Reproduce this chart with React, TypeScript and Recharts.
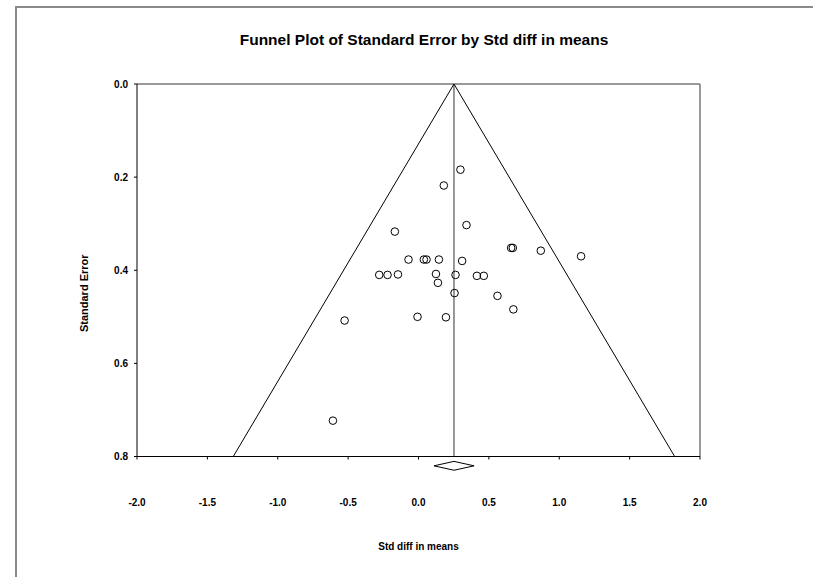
import {
  ScatterChart,
  Scatter,
  XAxis,
  YAxis,
  ReferenceLine,
} from 'recharts';

// study estimates
const stdDiff: number[] = [
  0.298, 0.18, 0.341, -0.168, 0.658, 0.67, 0.869, 1.155, -0.071, 0.038,
  0.057, 0.145, 0.31, -0.279, -0.22, -0.146, 0.124, 0.263, 0.415, 0.464,
  0.138, 0.256, 0.561, 0.674, -0.525, -0.007, 0.195, -0.608,
];
const stdError: number[] = [
  0.184, 0.218, 0.303, 0.317, 0.352, 0.352, 0.358, 0.37, 0.377, 0.377,
  0.377, 0.377, 0.38, 0.41, 0.41, 0.409, 0.408, 0.41, 0.412, 0.412,
  0.427, 0.449, 0.455, 0.484, 0.508, 0.5, 0.501, 0.723,
];

// summary effect (diamond) and funnel settings
const summary = { mean: 0.252, low: 0.11, high: 0.395 };
const Z = 1.96;

const xTicks = [-2, -1.5, -1, -0.5, 0, 0.5, 1, 1.5, 2];
const yTicks = [0, 0.2, 0.4, 0.6, 0.8];

const points = stdDiff.map((x, i) => ({ x, y: stdError[i] }));

const FONT = 'Arial, "Liberation Sans", sans-serif';
const tickStyle = { fontSize: 10, fontWeight: 700, fill: '#000', fontFamily: FONT };

// diamond sits just below the x axis
const DIAMOND_Y = 0.82;
const DIAMOND_H = 0.0095;

const OpenCircle = (props: any) => {
  const { cx, cy } = props;
  if (cx == null || cy == null) return null;
  return <circle cx={cx} cy={cy} r={3.8} fill="none" stroke="#000" strokeWidth={1} />;
};

export default function App() {
  const maxSe = yTicks[yTicks.length - 1];
  const left = { x: summary.mean - Z * maxSe, y: maxSe };
  const right = { x: summary.mean + Z * maxSe, y: maxSe };
  const apex = { x: summary.mean, y: 0 };

  const dL = { x: summary.low, y: DIAMOND_Y };
  const dT = { x: summary.mean, y: DIAMOND_Y - DIAMOND_H };
  const dR = { x: summary.high, y: DIAMOND_Y };
  const dB = { x: summary.mean, y: DIAMOND_Y + DIAMOND_H };

  return (
    <div style={{ position: 'absolute', left: 0, top: 0, width: 813, height: 577, background: '#fff' }}>
      {/* outer frame */}
      <div
        style={{
          position: 'absolute',
          left: 15,
          top: 6,
          width: 820,
          height: 600,
          borderLeft: '2px solid #8a8a8a',
          borderTop: '2px solid #8a8a8a',
        }}
      />
      <div
        style={{
          position: 'absolute',
          left: 124,
          top: 31.6,
          width: 600,
          textAlign: 'center',
          fontFamily: FONT,
          fontWeight: 700,
          fontSize: 15.5,
          lineHeight: '16px',
          color: '#000',
        }}
      >
        Funnel Plot of Standard Error by Std diff in means
      </div>
      <ScatterChart
        width={813}
        height={577}
        margin={{ top: 84, right: 113, left: 77, bottom: 20.5 }}
        style={{ position: 'absolute', left: 0, top: 0 }}
      >
        <XAxis
          type="number"
          dataKey="x"
          domain={[-2, 2]}
          ticks={xTicks}
          tickFormatter={(v: number) => v.toFixed(1)}
          tick={tickStyle}
          tickSize={3}
          tickMargin={39}
          height={100}
          stroke="#000"
          label={{
            content: (p: any) => {
              const vb = p.viewBox;
              return (
                <text
                  x={vb.x + vb.width / 2}
                  y={vb.y + 93.5}
                  textAnchor="middle"
                  style={{ fontSize: 10, fontWeight: 700, fontFamily: FONT }}
                  fill="#000"
                >
                  Std diff in means
                </text>
              );
            },
          }}
        />
        <YAxis
          type="number"
          dataKey="y"
          domain={[0, 0.8]}
          ticks={yTicks}
          reversed
          tickFormatter={(v: number) => v.toFixed(1)}
          tick={tickStyle}
          tickSize={3}
          tickMargin={6}
          width={60}
          stroke="#000"
          label={{
            content: (p: any) => {
              const vb = p.viewBox;
              const lx = vb.x + 11;
              const ly = vb.y + vb.height / 2 + 23;
              return (
                <text
                  x={lx}
                  y={ly}
                  transform={`rotate(-90 ${lx} ${ly})`}
                  textAnchor="middle"
                  style={{ fontSize: 11, fontWeight: 700, fontFamily: FONT }}
                  fill="#000"
                >
                  Standard Error
                </text>
              );
            },
          }}
        />

        {/* plot box top and right */}
        <ReferenceLine y={0} stroke="#777" strokeWidth={1.5} />
        <ReferenceLine x={2} stroke="#777" strokeWidth={1.5} />

        {/* mean line and funnel */}
        <ReferenceLine x={summary.mean} stroke="#777" strokeWidth={1.5} />
        <ReferenceLine segment={[apex, left]} stroke="#000" ifOverflow="visible" />
        <ReferenceLine segment={[apex, right]} stroke="#000" ifOverflow="visible" />

        {/* summary diamond */}
        <ReferenceLine segment={[dL, dT]} stroke="#000" ifOverflow="visible" />
        <ReferenceLine segment={[dT, dR]} stroke="#000" ifOverflow="visible" />
        <ReferenceLine segment={[dR, dB]} stroke="#000" ifOverflow="visible" />
        <ReferenceLine segment={[dB, dL]} stroke="#000" ifOverflow="visible" />

        <Scatter data={points} shape={OpenCircle} isAnimationActive={false} />
      </ScatterChart>
    </div>
  );
}
